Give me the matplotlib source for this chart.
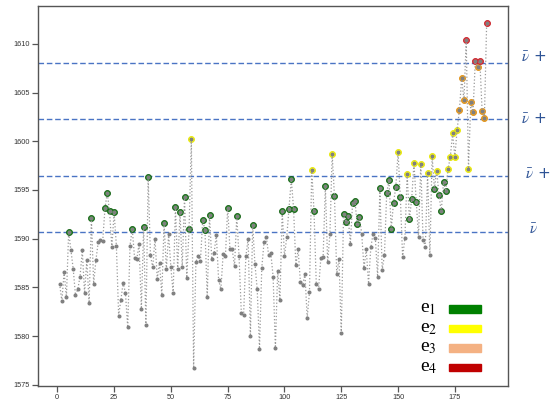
import matplotlib
matplotlib.use("Agg")
import matplotlib.pyplot as plt
from matplotlib.patches import Rectangle
import numpy as np

# series, index 1..189
values = [
    1585.4, 1583.6, 1586.6, 1584.0, 1590.7, 1588.8, 1586.9, 1584.2, 1584.8, 1586.1,
    1588.8, 1584.4, 1587.8, 1583.4, 1592.1, 1585.4, 1587.8, 1589.65, 1589.9, 1589.8,
    1593.2, 1594.7, 1592.8, 1589.1, 1592.7, 1589.3, 1582.1, 1583.75, 1585.5, 1584.4,
    1580.9, 1589.3, 1591.0, 1588.05, 1587.9, 1589.5, 1582.8, 1591.25, 1581.1, 1596.3,
    1588.3, 1587.05, 1590.0, 1585.9, 1587.5, 1584.2, 1591.6, 1586.85, 1590.5, 1587.05,
    1584.4, 1593.3, 1586.85, 1592.7, 1587.1, 1594.3, 1586.0, 1591.0, 1600.2, 1576.7,
    1587.6, 1588.2, 1587.7, 1591.9, 1590.9, 1584.0, 1592.4, 1587.9, 1588.5, 1590.4,
    1585.8, 1584.8, 1588.45, 1588.2, 1593.2, 1588.9, 1588.9, 1587.15, 1592.3, 1588.2,
    1582.4, 1582.15, 1588.2, 1590.0, 1580.0, 1591.4, 1587.4, 1584.8, 1578.7, 1587.0,
    1589.65, 1590.2, 1588.35, 1588.5, 1586.1, 1578.8, 1586.7, 1583.7, 1592.85, 1588.2,
    1590.2, 1593.1, 1596.1, 1593.1, 1587.3, 1588.9, 1585.6, 1585.2, 1586.4, 1581.9,
    1584.5, 1597.1, 1592.8, 1585.35, 1584.85, 1588.0, 1588.1, 1595.4, 1587.6, 1590.5,
    1598.65, 1594.4, 1586.4, 1587.9, 1580.3, 1592.5, 1591.7, 1592.3, 1589.5, 1593.7,
    1593.9, 1591.5, 1592.2, 1590.5, 1587.0, 1588.9, 1585.4, 1589.1, 1590.5, 1590.05,
    1586.1, 1595.2, 1586.8, 1588.3, 1594.7, 1596.0, 1591.0, 1593.7, 1595.3, 1598.85,
    1594.3, 1588.1, 1590.05, 1596.6, 1592.0, 1594.1, 1597.75, 1593.8, 1590.2, 1597.7,
    1589.9, 1589.2, 1596.7, 1588.3, 1598.5, 1595.1, 1597.0, 1594.5, 1592.8, 1595.8,
    1594.9, 1597.15, 1598.4, 1600.8, 1598.4, 1601.2, 1603.2, 1606.5, 1604.2, 1610.35,
    1597.2, 1604.0, 1603.05, 1608.25, 1607.65, 1608.25, 1603.1, 1602.4, 1612.15,
]
index = np.arange(1, len(values) + 1)

nu_mean = 1590.67
sigma = 5.8
levels = [nu_mean + k * sigma for k in range(4)]

marker_colors = ['#1f8a1f', '#ffff1a', '#f5a623', '#e8333a']
marker_edges = ['#136013', '#e6e600', '#e08e10', '#c81e25']
legend_labels = ['e$_1$', 'e$_2$', 'e$_3$', 'e$_4$']
legend_colors = ['#008000', '#ffff00', '#f4b183', '#c00000']

fig = plt.figure(figsize=(5.54, 4.0), dpi=100)
ax = fig.add_axes([0.069, 0.036, 0.848, 0.95])

vals = np.array(values)
# colour class by band above the mean
for k in range(4):
    lo = levels[k]
    hi = levels[k + 1] if k < 3 else np.inf
    m = (vals >= lo) & (vals < hi)
    ax.plot(index[m], vals[m], 'o', ms=4.3, color=marker_colors[k],
            markeredgecolor=marker_edges[k], markeredgewidth=0.6, zorder=2)

ax.plot(index, vals, ':', color='#9a9a9a', lw=0.9, marker='o', ms=1.9,
        markerfacecolor='#808080', markeredgecolor='#808080', zorder=3)

for lv in levels:
    ax.axhline(lv, color='#4a74c4', ls='--', lw=1.0, dashes=(4, 2), zorder=1)

ax.set_xticks(np.arange(0, 176, 25))
ax.set_yticks(np.arange(1575, 1611, 5))
for s in ax.spines.values():
    s.set_color('#555555')
    s.set_linewidth(1.0)
ax.tick_params(direction='out', length=4, width=0.9, color='#555555',
               labelsize=5.3, labelcolor='#333333', pad=2)
for lab in ax.get_xticklabels() + ax.get_yticklabels():
    lab.set_family('Liberation Sans')

# right side labels (cut off at the edge like the reference)
right_labels = [r'$\bar{\nu}$', r'$\bar{\nu}$ +', r'$\bar{\nu}$ +', r'$\bar{\nu}$ +']
right_pos = [(529, 230), (525, 174), (521, 119), (521, 57)]
for t, (px, py) in zip(right_labels, right_pos):
    fig.text(px / 554, 1 - py / 400, t, fontsize=11, color='#2f5496',
             va='center', ha='left', math_fontfamily='stix')

# legend block
for i, (t, c) in enumerate(zip(legend_labels, legend_colors)):
    py = 309 + i * 19.5
    fig.text(420 / 554, 1 - py / 400, t, fontsize=14, family='Liberation Serif',
             va='center', ha='left', math_fontfamily='stix')
    fig.patches.append(Rectangle((449 / 554, 1 - (py + 3.5) / 400), 32 / 554, 7.5 / 400,
                                 transform=fig.transFigure, color=c, zorder=5))

fig.savefig('out.png', dpi=100)
